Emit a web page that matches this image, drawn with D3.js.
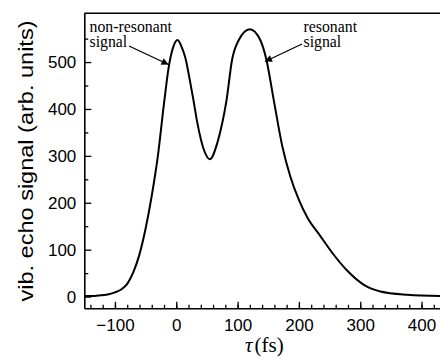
<!DOCTYPE html>
<html>
<head>
<meta charset="utf-8">
<script src="https://cdn.jsdelivr.net/npm/d3@7"></script>
<style>
  body { margin: 0; background: #fff; }
  svg { display: block; }
  .tick text { font-family: "Liberation Sans", Arial, sans-serif; font-size: 17px; fill: #000; }
</style>
</head>
<body>
<svg id="chart" width="440" height="358"></svg>
<script>
'use strict';

// delay in fs and echo amplitude
var delays = [-150, -130, -110, -100, -90, -80, -70, -60, -50, -40, -30, -20, -12, -5, 2, 10, 15, 22, 28, 34,
              45, 55, 67, 75, 82, 91, 102, 120, 137, 147, 159, 173, 186, 200, 214, 235, 254, 279, 306, 333, 377, 435];
var signal = [1, 2, 5, 9, 15, 27, 52, 90, 145, 215, 300, 412, 492, 532, 547, 528, 508, 462, 419, 373,
              313, 293, 328, 370, 419, 505, 547, 570, 547, 505, 419, 320, 256, 206, 168, 129, 94, 55, 25, 11, 4, 1];

var xTicks = [-100, 0, 100, 200, 300, 400];
var yTicks = [0, 100, 200, 300, 400, 500];

var svg = d3.select('#chart');

var x = d3.scaleLinear().domain([-150, 435]).range([84.3, 443]);
var y = d3.scaleLinear().domain([-25, 604]).range([308.3, 13.3]);

//minor ticks first, majors on top
svg.append('g')
    .attr('transform', 'translate(0,308.3)')
    .call(d3.axisBottom(x).tickValues(d3.range(-140, 435, 20)).tickSize(-3.5).tickFormat('').tickSizeOuter(0))
    .call(function (g) { g.select('.domain').remove(); });

svg.append('g')
    .attr('transform', 'translate(84.3,0)')
    .call(d3.axisLeft(y).tickValues(d3.range(50, 604, 100)).tickSize(-4).tickFormat('').tickSizeOuter(0))
    .call(function (g) { g.select('.domain').remove(); });

var xAxis = svg.append('g')
    .attr('transform', 'translate(0,308.3)')
    .call(d3.axisBottom(x).tickValues(xTicks).tickSize(-6.5).tickPadding(11).tickSizeOuter(0));

var yAxis = svg.append('g')
    .attr('transform', 'translate(84.3,0)')
    .call(d3.axisLeft(y).tickValues(yTicks).tickSize(-7).tickPadding(8).tickSizeOuter(0));

svg.selectAll('.tick line').attr('stroke', '#000').attr('stroke-width', 1.3);
xAxis.select('.domain').attr('stroke', '#000').attr('stroke-width', 1.6);
yAxis.select('.domain').attr('stroke', '#000').attr('stroke-width', 1.6);

//top frame
svg.append('line')
    .attr('x1', 84.3).attr('x2', 440)
    .attr('y1', 13.3).attr('y2', 13.3)
    .attr('stroke', '#000').attr('stroke-width', 1.6);

//echo curve
var line = d3.line()
    .x(function (d, i) { return x(delays[i]); })
    .y(function (d) { return y(d); })
    .curve(d3.curveMonotoneX);

svg.append('path')
    .datum(signal)
    .attr('d', line)
    .attr('fill', 'none')
    .attr('stroke', '#000')
    .attr('stroke-width', 2);

//axis titles
svg.append('text')
    .attr('transform', 'translate(33,161) rotate(-90)')
    .attr('text-anchor', 'middle')
    .attr('textLength', 281)
    .attr('lengthAdjust', 'spacingAndGlyphs')
    .style('font-family', '"Liberation Sans", Arial, sans-serif')
    .style('font-size', '21px')
    .text('vib. echo signal (arb. units)');

var xTitle = svg.append('text')
    .attr('x', 245).attr('y', 352)
    .style('font-family', '"Liberation Serif", "Times New Roman", serif')
    .style('font-size', '21px');
xTitle.append('tspan').style('font-style', 'italic').text('τ');
xTitle.append('tspan').attr('dx', 2).text('(fs)');

//annotations
svg.append('defs').append('marker')
    .attr('id', 'head')
    .attr('viewBox', '0 0 10 10')
    .attr('refX', 10).attr('refY', 5)
    .attr('markerWidth', 9).attr('markerHeight', 7)
    .attr('markerUnits', 'userSpaceOnUse')
    .attr('orient', 'auto')
  .append('path')
    .attr('d', 'M0,0L10,5L0,10z')
    .attr('fill', '#000');

var notes = [
    {lines: ['non-resonant', 'signal'], tx: 89.5, from: [129, 46], to: [168.5, 64.5]},
    {lines: ['resonant', 'signal'], tx: 303.5, from: [302, 44], to: [265, 61.5]}
];

notes.forEach(function (n) {
    var t = svg.append('text')
        .style('font-family', '"Liberation Serif", "Times New Roman", serif')
        .style('font-size', '15.8px');
    n.lines.forEach(function (s, i) {
        t.append('tspan').attr('x', n.tx).attr('y', 31.5 + i * 15.5).text(s);
    });
    svg.append('line')
        .attr('x1', n.from[0]).attr('y1', n.from[1])
        .attr('x2', n.to[0]).attr('y2', n.to[1])
        .attr('stroke', '#000').attr('stroke-width', 1.3)
        .attr('marker-end', 'url(#head)');
});
</script>
</body>
</html>
